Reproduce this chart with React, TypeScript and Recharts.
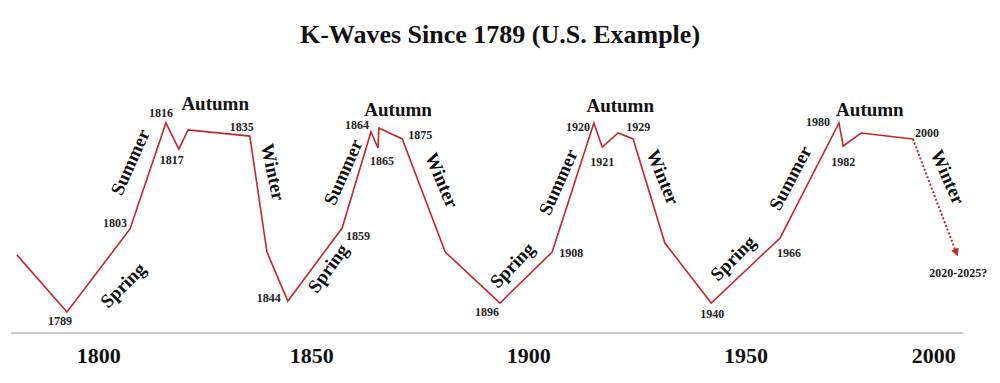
import React from "react";
import {
  LineChart,
  Line,
  XAxis,
  YAxis,
  LabelList,
  ReferenceDot,
} from "recharts";

// wave points, x is the position on the drawn time axis
const pointLabels = [
  "", "1789", "1803", "1816", "1817", "", "1835", "", "1844", "1859",
  "1864", "1865", "", "1875", "", "1896", "1908", "1920", "1921", "",
  "1929", "", "1940", "1966", "1980", "1982", "", "2000",
];
const pointPositions = [
  1780.4, 1792.4, 1807.5, 1816.1, 1819.2, 1821.4, 1836.2, 1840.3, 1845.3, 1858.3,
  1865.2, 1866.9, 1867.1, 1872.7, 1883.0, 1896.1, 1908.6, 1918.6, 1920.6, 1924.4,
  1928.0, 1935.6, 1946.7, 1963.2, 1977.3, 1978.3, 1982.6, 1995.0,
];
const waveValues = [
  35.5, 9.5, 47.3, 95.5, 83.6, 92.3, 89.5, 36.8, 14.5, 47.7,
  91.4, 84.1, 93.2, 88.2, 36.8, 13.6, 36.8, 95.5, 84.5, 90.9,
  88.2, 40.9, 13.6, 43.2, 95.5, 85.0, 90.9, 88.2,
];

// projected winter
const forecastLabels = ["", "2020-2025?"];
const forecastPositions = [1995.0, 2005.6];
const forecastValues = [88.2, 35.5];

// axis ticks
const tickPositions = [1800, 1851, 1903, 1955, 2000];
const tickLabels = ["1800", "1850", "1900", "1950", "2000"];

// season annotations
const seasonNames = [
  "Spring", "Summer", "Autumn", "Winter",
  "Spring", "Summer", "Autumn", "Winter",
  "Spring", "Summer", "Autumn", "Winter",
  "Spring", "Summer", "Autumn", "Winter",
];
const seasonPositions = [
  1805.8, 1807.5, 1827.9, 1841.8,
  1854.9, 1858.5, 1871.7, 1882.2,
  1899.0, 1910.0, 1924.9, 1935.2,
  1951.9, 1965.6, 1984.7, 2003.4,
];
const seasonLevels = [
  21.8, 77.7, 104.5, 73.2,
  29.5, 73.2, 101.8, 69.5,
  30.9, 68.6, 103.2, 70.9,
  34.1, 70.5, 101.8, 70.9,
];
const seasonAngles = [
  -45, -66, 0, 78,
  -54, -66, 0, 67,
  -46, -66, 0, 68,
  -45, -62, 0, 66,
];

const waveData = pointPositions.map((x, i) => ({
  x,
  value: waveValues[i],
  label: pointLabels[i],
}));
const forecastData = forecastPositions.map((x, i) => ({
  x,
  value: forecastValues[i],
  label: forecastLabels[i],
}));

const RED = "#c1272d";
const FONT = "'Liberation Serif', 'Times New Roman', serif";

// where each year label sits relative to its point
const labelOffsets: Record<string, [number, number]> = {
  "1789": [-7, 9],
  "1803": [-15, -6],
  "1816": [-5, -10],
  "1817": [-7, 11],
  "1835": [-8, -9],
  "1844": [-19, -3],
  "1859": [16, 8],
  "1864": [-14, -7],
  "1865": [4, 13],
  "1875": [18, -4],
  "1896": [-13, 9],
  "1908": [19, 1],
  "1920": [-16, 4],
  "1921": [0, 15],
  "1929": [5, -12],
  "1940": [1, 11],
  "1966": [9, 15],
  "1980": [-21, -1],
  "1982": [0, 16],
  "2000": [14, -6],
  "2020-2025?": [1, 18],
};

const renderYear = (props: any) => {
  const { x, y, value } = props;
  if (!value) return null;
  const [dx, dy] = labelOffsets[value] || [0, 0];
  return (
    <text
      x={x + dx}
      y={y + dy}
      textAnchor="middle"
      dominantBaseline="central"
      fontFamily={FONT}
      fontWeight="bold"
      fontSize={12}
      fill="#222"
    >
      {value}
    </text>
  );
};

const renderTick = (props: any) => {
  const { x, y, index } = props;
  return (
    <text
      x={x}
      y={y}
      dy={22}
      textAnchor="middle"
      fontFamily={FONT}
      fontWeight="bold"
      fontSize={22}
      fill="#111"
    >
      {tickLabels[index]}
    </text>
  );
};

const seasonShape = (text: string, angle: number) => (props: any) => {
  const { cx, cy } = props;
  return (
    <text
      x={cx}
      y={cy}
      transform={`rotate(${angle} ${cx} ${cy})`}
      textAnchor="middle"
      dominantBaseline="central"
      fontFamily={FONT}
      fontWeight="bold"
      fontSize={19}
      fill="#111"
    >
      {text}
    </text>
  );
};

export default function App() {
  return (
    <div style={{ position: "absolute", left: 0, top: 0, width: 1000, height: 383, background: "#fff" }}>
      <svg width={0} height={0} style={{ position: "absolute" }}>
        <defs>
          <marker
            id="arrowHead"
            viewBox="0 0 10 10"
            refX="8"
            refY="5"
            markerWidth="4"
            markerHeight="4"
            orient="auto"
          >
            <path d="M0,0 L10,5 L0,10 z" fill={RED} />
          </marker>
        </defs>
      </svg>
      <div
        style={{
          position: "absolute",
          left: 0,
          top: 19,
          width: 1000,
          textAlign: "center",
          fontFamily: FONT,
          fontWeight: "bold",
          fontSize: 26,
          lineHeight: "32px",
          color: "#111",
        }}
      >
        K-Waves Since 1789 (U.S. Example)
      </div>
      <LineChart
        width={1000}
        height={383}
        margin={{ top: 91, right: 37, bottom: 20, left: 11 }}
      >
        <XAxis
          type="number"
          dataKey="x"
          domain={[1779, 2007]}
          allowDataOverflow
          ticks={tickPositions}
          tick={renderTick}
          tickLine={false}
          axisLine={{ stroke: "#c8c8c8", strokeWidth: 2 }}
          height={30}
        />
        <YAxis hide type="number" domain={[0, 110]} />
        <Line
          data={waveData}
          dataKey="value"
          stroke={RED}
          strokeWidth={1.6}
          dot={false}
          activeDot={false}
          isAnimationActive={false}
        >
          <LabelList dataKey="label" content={renderYear} />
        </Line>
        <Line
          data={forecastData}
          dataKey="value"
          stroke={RED}
          strokeWidth={2}
          strokeDasharray="2 2"
          markerEnd="url(#arrowHead)"
          dot={false}
          activeDot={false}
          isAnimationActive={false}
        >
          <LabelList dataKey="label" content={renderYear} />
        </Line>
        {seasonNames.map((name, i) => (
          <ReferenceDot
            key={i}
            x={seasonPositions[i]}
            y={seasonLevels[i]}
            r={0}
            shape={seasonShape(name, seasonAngles[i])}
          />
        ))}
      </LineChart>
    </div>
  );
}
